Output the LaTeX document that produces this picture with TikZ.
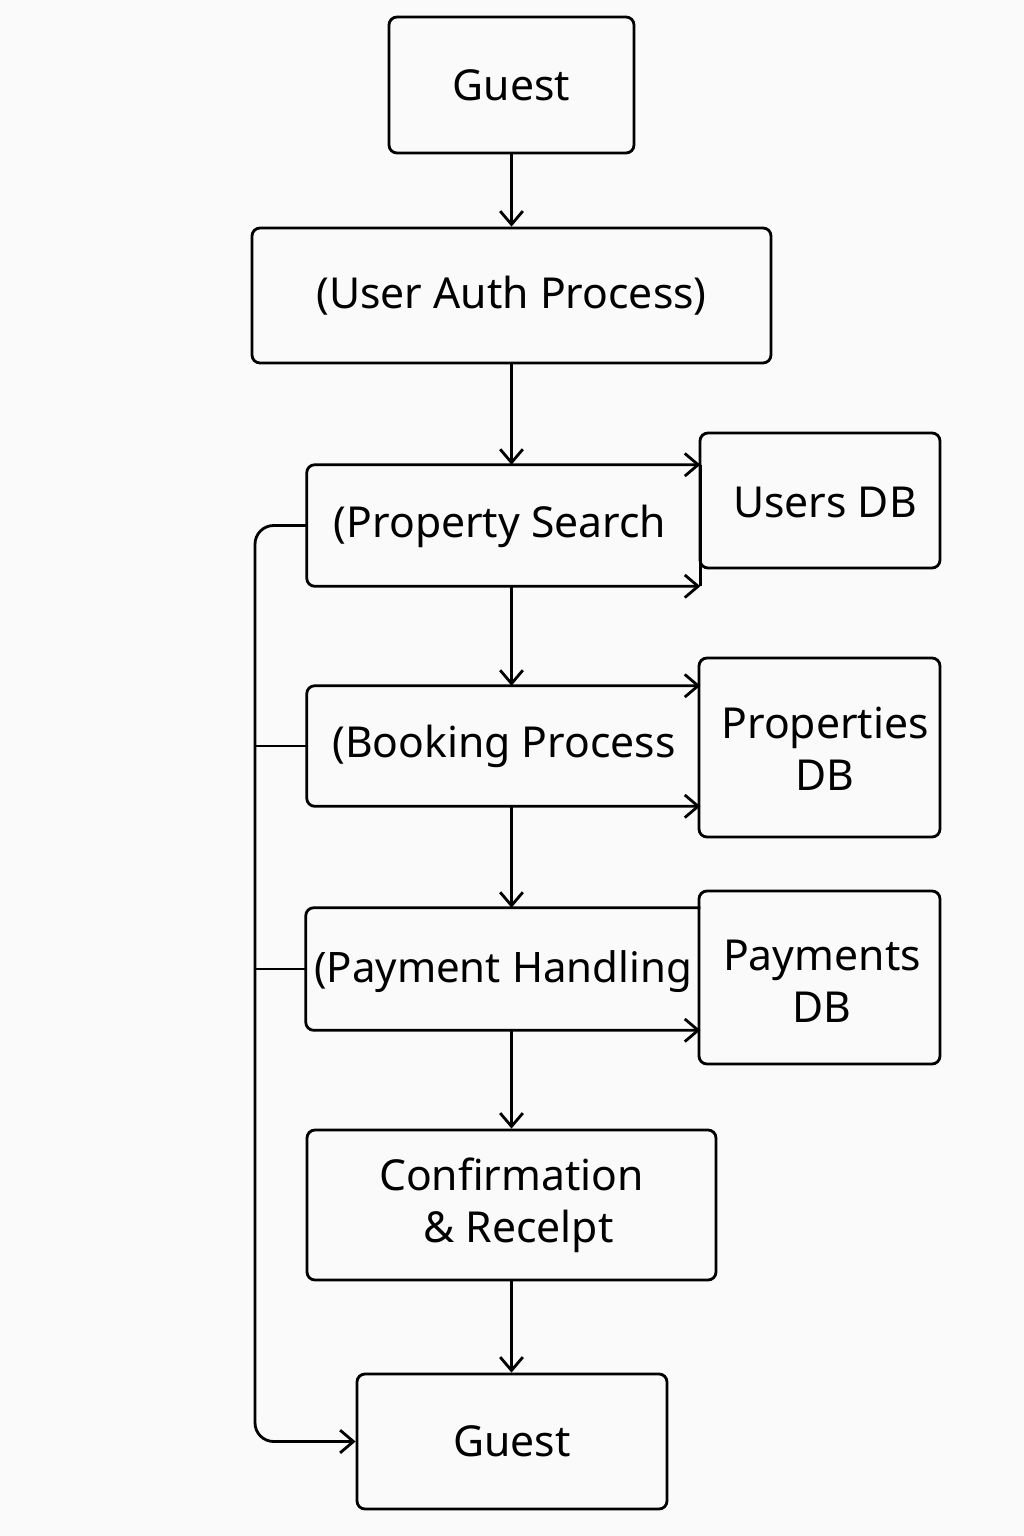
\documentclass[tikz,border=0pt]{standalone}
\usepackage{fontspec}
\setmainfont{Noto Sans}
\usetikzlibrary{arrows.meta}
\begin{document}
\begin{tikzpicture}[x=0.75pt,y=-0.75pt,
  every node/.style={font=\fontsize{32pt}{39pt}\selectfont, align=center, inner sep=0pt},
  box/.style={draw, line width=2.1pt, rounded corners=6pt, minimum width=#1},
  proc/.style={draw=none},
  ln/.style={line width=2.1pt},
  tip/.style={-{Straight Barb[length=10pt,width=17pt,line width=2.1pt]}},
  btip/.style={{Straight Barb[length=10pt,width=17pt,line width=2.1pt]}-{Straight Barb[length=10pt,width=17pt,line width=2.1pt]}}
]
\useasboundingbox (0,0) rectangle (1024,1536);
\fill[white!98!black] (0,0) rectangle (1024,1536);

% main column
\node[box=183.75pt, minimum height=102pt] (g1) at (511.5,85) {Guest};
\node[box=389.25pt, minimum height=101.25pt] (ua) at (511.5,295.5) {(User Auth Process)};
\node[proc, minimum width=294.75pt, minimum height=90.75pt] (ps) at (503.5,525.5) {};
\node at (500,526) {(Property Search};
\node[proc, minimum width=294.75pt, minimum height=90pt] (bp) at (503.5,746) {};
\node at (504,746) {(Booking Process};
\node[proc, minimum width=295.5pt, minimum height=91.5pt] (ph) at (503,969) {};
\node at (503,972) {\fontsize{31.5pt}{39pt}\selectfont(Payment Handling};
\node[box=306.75pt, minimum height=112.5pt] (cr) at (511.5,1205) {Confirmation\\\,\,\& Recelpt};
\node[box=232.5pt, minimum height=101.25pt] (g2) at (512,1441.5) {Guest};

% databases
\node[box=180pt, minimum height=101.25pt] (udb) at (820,500.5) {};
\node at (825,502) {Users DB};
\node[box=180.75pt, minimum height=134.25pt] (pdb) at (819.5,747.5) {};
\node at (825,749) {Properties\\DB};
\node[box=180.75pt, minimum height=129.75pt] (paydb) at (819.5,977.5) {};
\node at (822,981) {Payments\\DB};

% process outlines (open on the right, edges run into the DB boxes)
\draw[ln, btip, rounded corners=6pt] (ps.north east) -- (ps.north west) -- (ps.south west) -- (ps.south east);
\draw[ln] (ps.north east) -- (ps.south east);
\draw[ln, btip, rounded corners=6pt] (bp.north east) -- (bp.north west) -- (bp.south west) -- (bp.south east);
\draw[ln, tip, rounded corners=6pt] (ph.north east) -- (ph.north west) -- (ph.south west) -- (ph.south east);

% vertical flow
\draw[ln, tip] (g1.south) -- (ua.north);
\draw[ln, tip] (ua.south) -- (ps.north -| ua.south);
\draw[ln, tip] (ps.south -| ua.south) -- (bp.north -| ua.south);
\draw[ln, tip] (bp.south -| ua.south) -- (ph.north -| ua.south);
\draw[ln, tip] (ph.south -| ua.south) -- (cr.north -| ua.south);
\draw[ln, tip] (cr.south -| ua.south) -- (g2.north -| ua.south);

% left bus
\coordinate (bus) at (255,0);
\draw[ln, tip, rounded corners=14pt] (ps.west) -- (ps.west -| bus) |- (g2.west);
\draw[ln] (bp.west) -- (bp.west -| bus);
\draw[ln] (ph.west) -- (ph.west -| bus);
\end{tikzpicture}
\end{document}
